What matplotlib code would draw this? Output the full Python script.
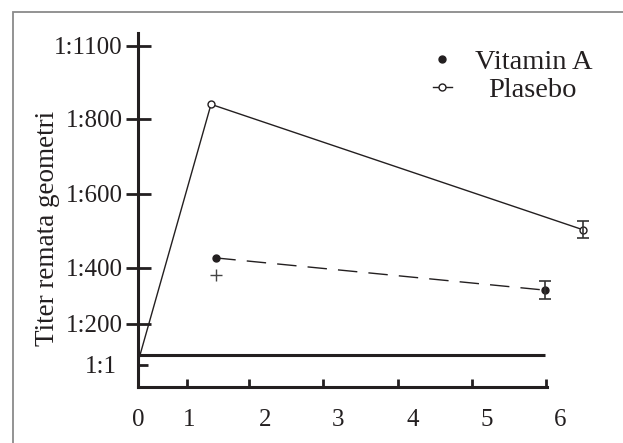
import numpy as np
import matplotlib
matplotlib.use('Agg')
import matplotlib.pyplot as plt
from matplotlib.lines import Line2D
from matplotlib.patches import Rectangle
from matplotlib.ticker import FixedLocator, FixedFormatter

plt.rcParams['font.family'] = ['Liberation Serif', 'DejaVu Serif']

# ---------------- data ----------------
x_tick_values = [0, 1, 2, 3, 4, 5, 6]
x_tick_labels = ['0', '1', '2', '3', '4', '5', '6']
y_tick_values = [200, 400, 600, 800, 1100]
y_tick_labels = ['1:200', '1:400', '1:600', '1:800', '1:1100']
y_base_value = [1]
y_base_label = ['1:1']

placebo_x = [0, 1.29, 6.32]
placebo_y = [15, 860, 503]
placebo_err_low = 481
placebo_err_high = 527

vita_x = [1.36, 5.79]
vita_y = [427, 321]
vita_err_low = [375, 289]
vita_err_high = [None, 354]

reference_x = [0, 5.79]
reference_y = [49, 49]

ylabel = 'Titer remata geometri'
legend_labels = ['Vitamin A', 'Plasebo']

# ---------------- axis geometry (drawn axes are non-uniform) ----------------
XA = np.array([-10, 0, 1, 2, 3, 4, 5, 6, 20], dtype=float)
XP = np.array([-510, 0, 51, 127, 200, 275, 349, 422, 422 + 14 * 73], dtype=float)
YA = np.array([-1000, 0, 1, 200, 400, 600, 800, 1100, 3000], dtype=float)
YP = np.array([-1000, 0, 22, 63, 119, 193, 268, 341, 341 + 1900 * 73 / 300], dtype=float)

def fx(v):
    return np.interp(v, XA, XP)

def ifx(p):
    return np.interp(p, XP, XA)

def fy(v):
    return np.interp(v, YA, YP)

def ify(p):
    return np.interp(p, YP, YA)

x_marks = [0, 0.96, 1.79, 2.79, 3.8, 4.8, 5.81]

ink = '#231f20'
W, H = 623, 443
fig = plt.figure(figsize=(W / 100, H / 100), dpi=100)
ax = fig.add_axes([138 / W, 56 / H, 462 / W, 354 / H])
ax.set_xscale('function', functions=(fx, ifx))
ax.set_yscale('function', functions=(fy, ify))
ax.set_xlim(0, 6.55)
ax.set_ylim(0, 1153)

# reference horizontal line
ax.plot(reference_x, reference_y, color=ink, lw=2.2, solid_capstyle='butt')

# placebo
ax.plot(placebo_x, placebo_y, color=ink, lw=1.0, marker='o', markevery=[1, 2],
        markersize=5, markerfacecolor='white', markeredgecolor=ink, markeredgewidth=1.0)
ax.errorbar([placebo_x[-1]], [placebo_y[-1]],
            yerr=[[placebo_y[-1] - placebo_err_low], [placebo_err_high - placebo_y[-1]]],
            fmt='none', ecolor='#333333', elinewidth=1.2, capsize=4, capthick=1.2)

# vitamin A
ax.plot(vita_x, vita_y, color=ink, lw=1.0, ls=(0, (14, 8)), marker='o',
        markersize=5, markerfacecolor=ink, markeredgecolor=ink)
ax.errorbar([vita_x[-1]], [vita_y[-1]],
            yerr=[[vita_y[-1] - vita_err_low[-1]], [vita_err_high[-1] - vita_y[-1]]],
            fmt='none', ecolor='#333333', elinewidth=1.2, capsize=4, capthick=1.2)
ax.plot([vita_x[0]], [vita_err_low[0]], ls='none', marker='+', markersize=8,
        markeredgewidth=1.0, color='#444444')

# spines
for s in ['top', 'right']:
    ax.spines[s].set_visible(False)
ax.spines['left'].set_linewidth(2.2)
ax.spines['left'].set_color(ink)
ax.spines['bottom'].set_linewidth(2.2)
ax.spines['bottom'].set_color(ink)
ax.spines['bottom'].set_bounds(0, 5.83)

# x ticks
ax.set_xticks(x_tick_values, x_tick_labels)
ax.xaxis.set_minor_locator(FixedLocator(x_marks))
ax.tick_params(axis='x', which='major', length=0, pad=16, labelsize=18, labelcolor=ink)
ax.tick_params(axis='x', which='minor', direction='in', length=5.8, width=2, color=ink)

# y ticks
ax.set_yticks(y_tick_values, y_tick_labels)
ax.yaxis.set_minor_locator(FixedLocator(y_base_value))
ax.yaxis.set_minor_formatter(FixedFormatter(y_base_label))
ax.tick_params(axis='y', which='major', direction='inout', length=18, width=2,
               pad=2, labelsize=18, color=ink, labelcolor=ink)
ax.tick_params(axis='y', which='minor', direction='in', length=7.5, width=2,
               pad=15, labelsize=18, color=ink, labelcolor=ink)

ax.set_ylabel(ylabel, fontsize=19.5, color=ink)
ax.yaxis.set_label_coords(-0.196, 0.449)
ax.yaxis.label.set_va('center')

# legends
h1 = Line2D([], [], ls='none', marker='o', markersize=5, color=ink)
h2 = Line2D([], [], ls='-', lw=1.0, marker='o', markersize=5, color=ink,
            markerfacecolor='white')
leg1 = ax.legend([h1], [legend_labels[0]], loc='upper left',
                 bbox_to_anchor=(433 / W, 1 - 49 / H), bbox_transform=fig.transFigure,
                 frameon=False, borderpad=0, borderaxespad=0, fontsize=20.5,
                 handlelength=0.65, handletextpad=0.84)
for t in leg1.get_texts():
    t.set_color(ink)
ax.add_artist(leg1)
leg2 = ax.legend([h2], [legend_labels[1]], loc='upper left',
                 bbox_to_anchor=(433 / W, 1 - 77 / H), bbox_transform=fig.transFigure,
                 frameon=False, borderpad=0, borderaxespad=0, fontsize=20.5,
                 handlelength=0.65, handletextpad=1.27)
for t in leg2.get_texts():
    t.set_color(ink)

# outer frame
fig.patches.append(Rectangle((13 / W, -0.1), 1.2, 431 / H + 0.1, transform=fig.transFigure,
                             fill=False, edgecolor='#8a8a8a', linewidth=1.3))

fig.savefig('out.png', dpi=100)
